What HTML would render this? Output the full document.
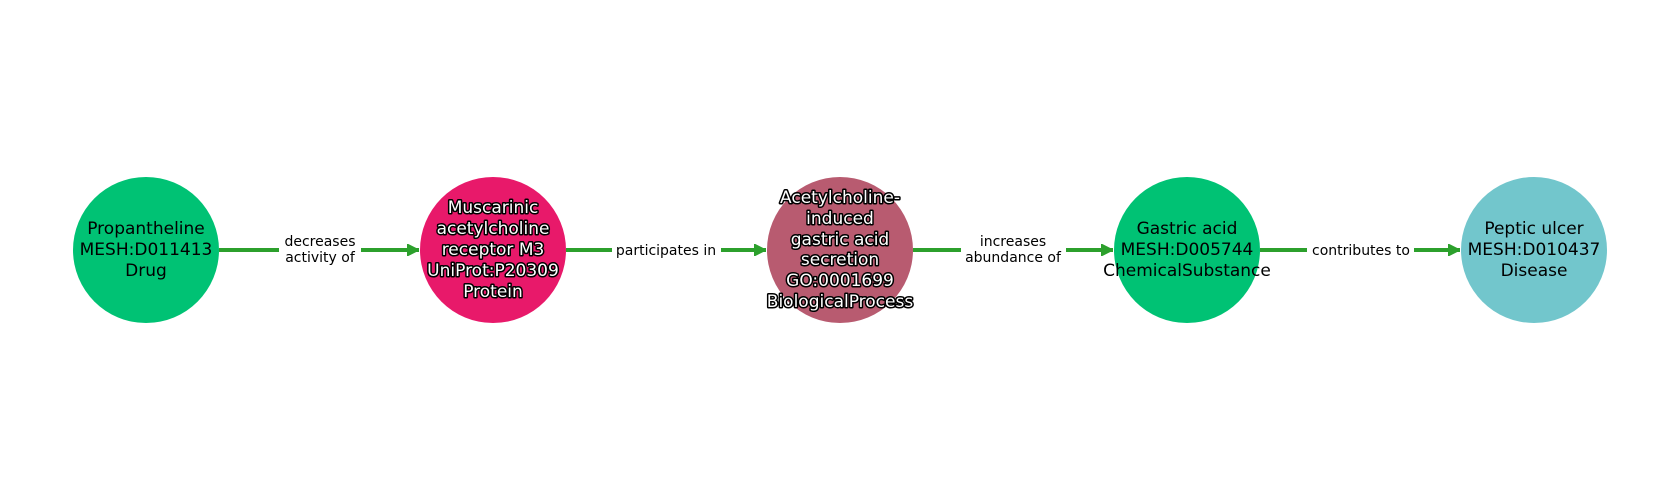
<!DOCTYPE html>
<html><head><meta charset="utf-8"><style>html,body{margin:0;padding:0;background:#fff}svg{display:block}</style></head>
<body>
<svg width="1680" height="500" viewBox="0 0 1680 500" xmlns="http://www.w3.org/2000/svg" font-family="DejaVu Sans, Liberation Sans, sans-serif">
<defs>
<marker id="a" viewBox="0 0 10 10" refX="10" refY="5" markerWidth="3" markerHeight="3" orient="auto" markerUnits="strokeWidth"><path d="M0,0 L10,5 L0,10 z" fill="#2ca02c" stroke="#2ca02c" stroke-width="1" stroke-linejoin="round"/></marker>
</defs>
<g stroke="#2ca02c" stroke-width="4" fill="none">
<line x1="219" y1="250" x2="419" y2="250" marker-end="url(#a)"/>
<line x1="566" y1="250" x2="766" y2="250" marker-end="url(#a)"/>
<line x1="913" y1="250" x2="1113" y2="250" marker-end="url(#a)"/>
<line x1="1260" y1="250" x2="1460" y2="250" marker-end="url(#a)"/>
</g>
<g fill="#fff">
<rect x="279" y="230" width="82" height="40"/>
<rect x="612" y="240" width="109" height="20"/>
<rect x="961" y="230" width="105" height="40"/>
<rect x="1307" y="240" width="107" height="20"/>
</g>
<g font-size="14" text-anchor="middle" fill="#000">
<text x="320" y="246">decreases</text><text x="320" y="262">activity of</text>
<text x="666" y="255">participates in</text>
<text x="1013" y="246">increases</text><text x="1013" y="262">abundance of</text>
<text x="1361" y="255">contributes to</text>
</g>
<ellipse cx="146" cy="250" rx="73" ry="73" fill="#00c274"/>
<ellipse cx="493" cy="250" rx="73" ry="73" fill="#e8196a"/>
<ellipse cx="840" cy="250" rx="73" ry="73" fill="#b85b70"/>
<ellipse cx="1187" cy="250" rx="73" ry="73" fill="#00c274"/>
<ellipse cx="1534" cy="250" rx="73" ry="73" fill="#72c6cc"/>
<g font-size="17" text-anchor="middle" fill="#000">
<text x="146" y="234">Propantheline</text><text x="146" y="255">MESH:D011413</text><text x="146" y="276">Drug</text>
<text x="1187" y="234">Gastric acid</text><text x="1187" y="255">MESH:D005744</text><text x="1187" y="276">ChemicalSubstance</text>
<text x="1534" y="234">Peptic ulcer</text><text x="1534" y="255">MESH:D010437</text><text x="1534" y="276">Disease</text>
</g>
<g font-size="17" text-anchor="middle" fill="#fff" stroke="#000" stroke-width="3" paint-order="stroke" stroke-linejoin="round">
<text x="493" y="213">Muscarinic</text><text x="493" y="234">acetylcholine</text><text x="493" y="255">receptor M3</text><text x="493" y="276">UniProt:P20309</text><text x="493" y="297">Protein</text>
<text x="840" y="203">Acetylcholine-</text><text x="840" y="224">induced</text><text x="840" y="245">gastric acid</text><text x="840" y="265">secretion</text><text x="840" y="286">GO:0001699</text><text x="840" y="307">BiologicalProcess</text>
</g>
</svg>
</body></html>
